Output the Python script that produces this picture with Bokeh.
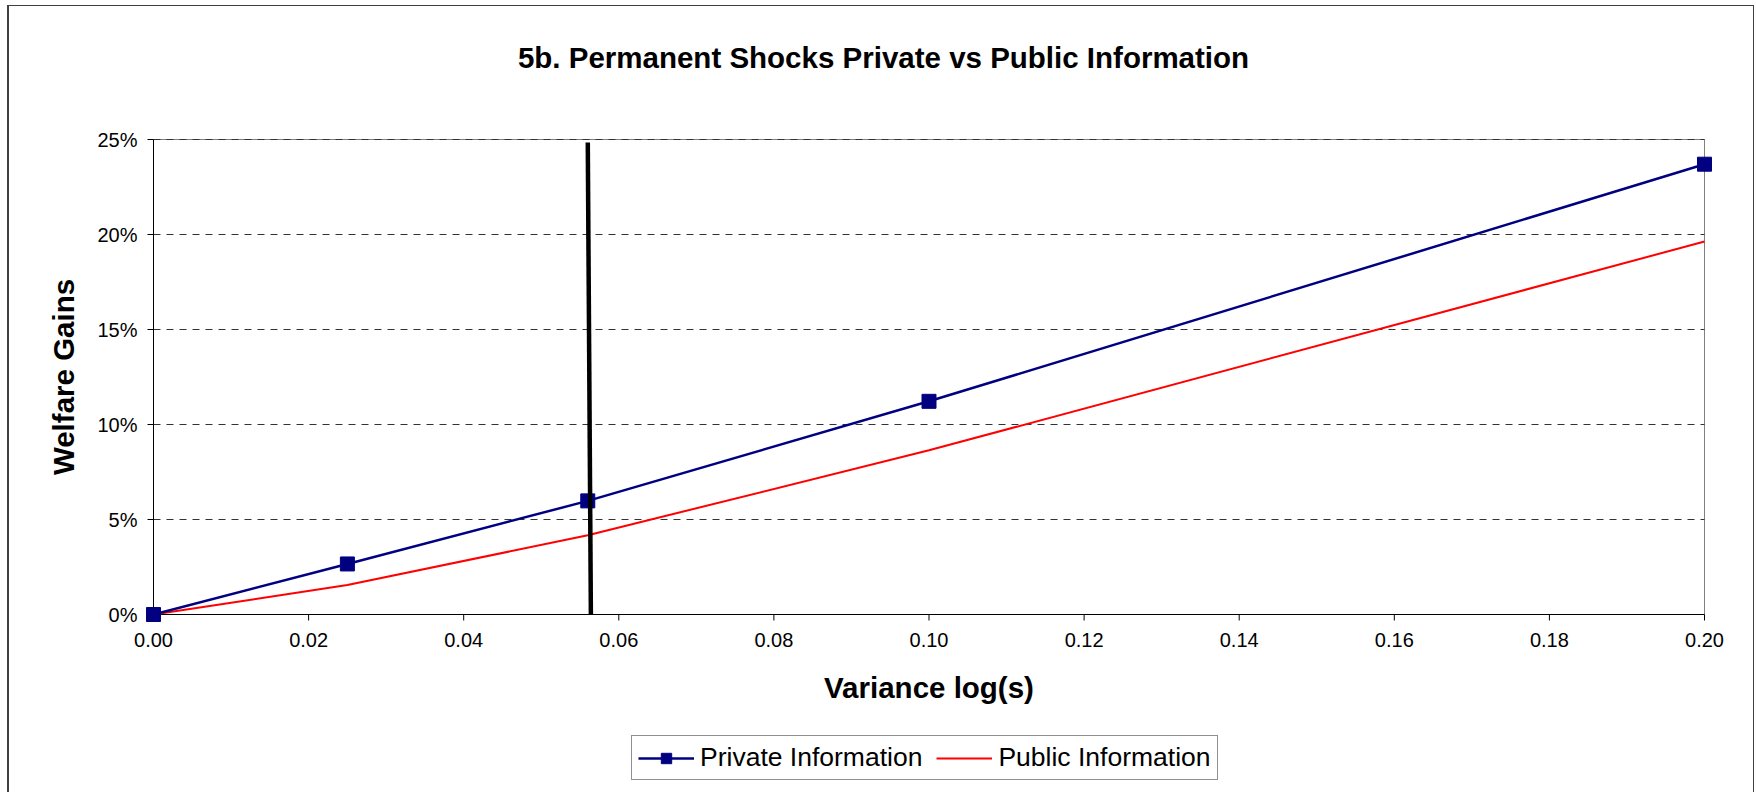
import math
from bokeh.plotting import figure
from bokeh.models import Range1d, Legend, LegendItem
from bokeh.core.properties import value
from bokeh.embed import file_html
from bokeh.resources import INLINE

# ---- data ----
variance = [0.0, 0.025, 0.056, 0.10, 0.20]
private_info = [0.0, 0.0266, 0.0598, 0.1122, 0.2370]
public_info = [0.0, 0.0155, 0.0417, 0.0864, 0.1963]
cutoff_x = [0.0560, 0.0564]
cutoff_y = [0.2484, 0.0]
x_ticks = [0.00, 0.02, 0.04, 0.06, 0.08, 0.10, 0.12, 0.14, 0.16, 0.18, 0.20]
y_ticks = [0.00, 0.05, 0.10, 0.15, 0.20, 0.25]
x_tick_labels = ["0.00", "0.02", "0.04", "0.06", "0.08", "0.10", "0.12", "0.14", "0.16", "0.18", "0.20"]
y_tick_labels = ["0%", "5%", "10%", "15%", "20%", "25%"]
title_text = "5b. Permanent Shocks Private vs Public Information"
x_label = "Variance log(s)"
y_label = "Welfare Gains"
series_names = ["Private Information", "Public Information"]

FONT = "Liberation Sans"

# ---- layout: the whole canvas is the frame; data box spans 1551 x 475 px ----
CW, CH = 1744, 786                 # canvas size
BOX_L, BOX_R, BOX_T, BOX_B = 144, 49, 133, 178   # px from canvas edges to data box
sx = (x_ticks[-1] - x_ticks[0]) / (CW - BOX_L - BOX_R)
sy = (y_ticks[-1] - y_ticks[0]) / (CH - BOX_T - BOX_B)

p = figure(frame_width=CW, frame_height=CH, output_backend="svg", toolbar_location=None,
           x_range=Range1d(x_ticks[0] - BOX_L * sx, x_ticks[-1] + BOX_R * sx),
           y_range=Range1d(y_ticks[0] - BOX_B * sy, y_ticks[-1] + BOX_T * sy),
           min_border=0)
p.styles = {"margin": "5px 0 0 7px",
            "border-left": "2px solid #404040", "border-top": "1px solid #404040",
            "border-right": "1px solid #404040"}
p.axis.visible = False
p.grid.visible = False
p.outline_line_color = None
p.background_fill_color = "white"
p.border_fill_color = "white"

x0, x1 = x_ticks[0], x_ticks[-1]
y0, y1 = y_ticks[0], y_ticks[-1]

# plot-area border (gray) on top and right
p.segment(x0=x0, y0=y1, x1=x1, y1=y1, line_color="#808080", line_width=1)
p.segment(x0=x1, y0=y0, x1=x1, y1=y1, line_color="#808080", line_width=1)
# dashed horizontal gridlines
p.segment(x0=x0, y0=y_ticks[1:], x1=x1, y1=y_ticks[1:],
          line_color="#333333", line_width=1, line_dash="7 6")
# axis lines and outward ticks
p.segment(x0=x0, y0=y0, x1=x1, y1=y0, line_color="black", line_width=1)
p.segment(x0=x0, y0=y0, x1=x0, y1=y1, line_color="black", line_width=1)
p.ray(x=x_ticks, y=y0, length=6, length_units="screen", angle=-math.pi / 2,
      line_color="black", line_width=1)
p.ray(x=x0, y=y_ticks, length=6, length_units="screen", angle=math.pi,
      line_color="black", line_width=1)

# tick labels
p.text(x=x_ticks, y=[y0] * len(x_ticks), text=x_tick_labels, y_offset=18,
       text_align="center", text_baseline="top", text_font=value(FONT),
       text_font_size=value("20px"), text_color="black")
p.text(x=[x0] * len(y_ticks), y=y_ticks, text=y_tick_labels, x_offset=-16,
       text_align="right", text_baseline="middle", text_font=value(FONT),
       text_font_size=value("20px"), text_color="black")

# axis labels and title
BOLD_SIZE = "29.5px"
p.text(x=[(x0 + x1) / 2], y=[y0], text=[x_label], y_offset=73,
       text_align="center", text_baseline="alphabetic", text_font=value(FONT),
       text_font_size=value(BOLD_SIZE), text_font_style="bold", text_color="black")
p.text(x=[x0], y=[(y0 + y1) / 2], text=[y_label], x_offset=-90, angle=math.pi / 2,
       text_align="center", text_baseline="alphabetic", text_font=value(FONT),
       text_font_size=value(BOLD_SIZE), text_font_style="bold", text_color="black")
p.text(x=[x0], y=[y1], text=[title_text], x_offset=730, y_offset=-82,
       text_align="center", text_baseline="alphabetic", text_font=value(FONT),
       text_font_size=value(BOLD_SIZE), text_font_style="bold", text_color="black")

# series
r_pub = p.line(variance, public_info, line_color="#FF0000", line_width=2)
r_priv = p.line(variance, private_info, line_color="#000080", line_width=2.5)
r_priv_m = p.scatter(variance, private_info, marker="square", size=14,
                     fill_color="#000080", line_color="#000080")

# vertical cutoff line
p.line(cutoff_x, cutoff_y, line_color="black", line_width=4.5)

legend = Legend(items=[LegendItem(label=series_names[0], renderers=[r_priv, r_priv_m]),
                       LegendItem(label=series_names[1], renderers=[r_pub])],
                orientation="horizontal", location=(622, 12),
                label_text_font=FONT, label_text_font_size="26.5px", label_text_color="black",
                glyph_width=56, glyph_height=26, label_height=26, label_standoff=6,
                spacing=14, padding=6, margin=0,
                border_line_color="#222222", border_line_width=1,
                background_fill_color="white", background_fill_alpha=1)
p.add_layout(legend, "center")

open("out.html", "w").write(file_html(p, INLINE))
